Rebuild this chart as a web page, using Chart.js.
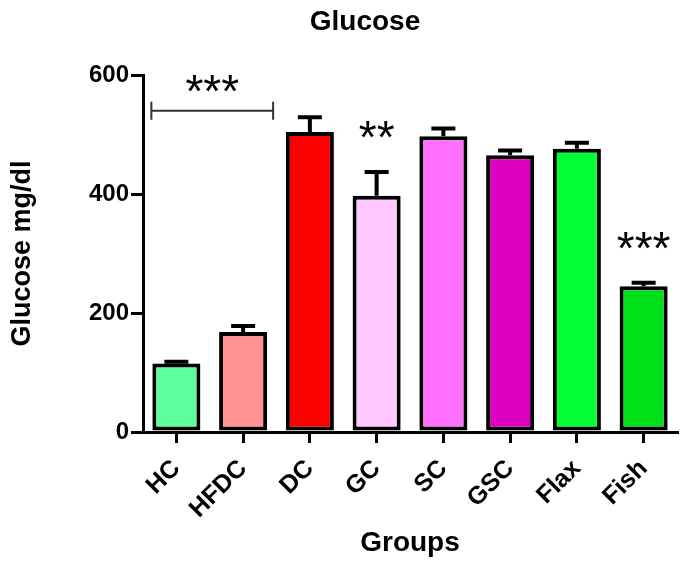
<!DOCTYPE html>
<html>
<head>
<meta charset="utf-8">
<script src="https://cdn.jsdelivr.net/npm/chart.js@4.4.1/dist/chart.umd.min.js"></script>
<style>
  html, body { margin: 0; padding: 0; background: #fff; }
  #wrap { width: 685px; height: 566px; }
</style>
</head>
<body>
<div id="wrap"><canvas id="myChart" width="685" height="566"></canvas></div>
<script>
// data
const groups = ['HC', 'HFDC', 'DC', 'GC', 'SC', 'GSC', 'Flax', 'Fish']
const glucose = [115, 168, 504, 397, 497, 465, 476, 245]
const sem = [3, 10, 25, 40, 13, 8, 10, 6]
const barColors = ['#5cff9c', '#ff9393', '#ff0000', '#ffc8ff', '#ff70ff', '#dc00c0', '#00ff33', '#00e019']
const sigMarks = ['', '', '', '**', '', '', '', '***']
// bracket HC..HFDC
const bracket = { from: 0, to: 1, value: 540, text: '***' }
const yTicks = [0, 200, 400, 600]
const chartTitle = 'Glucose'

const FONT = '"Liberation Sans", Arial, sans-serif'

/////////////////////////////////////////////////////////////
// error bars, significance stars, title
/////////////////////////////////////////////////////////////
const errorBars = {
    id: 'errorBars',
    afterDatasetsDraw(chart) {
        const ctx = chart.ctx
        const x = chart.scales.x, y = chart.scales.y
        ctx.save()
        ctx.strokeStyle = '#000'
        ctx.lineWidth = 4
        glucose.forEach((v, i) => {
            const cx = x.getPixelForValue(i)
            const top = y.getPixelForValue(v + sem[i])
            ctx.beginPath()
            ctx.moveTo(cx, y.getPixelForValue(v))
            ctx.lineTo(cx, top)
            ctx.moveTo(cx - 12, top)
            ctx.lineTo(cx + 12, top)
            ctx.stroke()
        })
        // stars over single bars
        ctx.fillStyle = '#000'
        ctx.font = '46px ' + FONT
        ctx.textAlign = 'center'
        ctx.textBaseline = 'alphabetic'
        sigMarks.forEach((s, i) => {
            if (!s) return
            const cx = x.getPixelForValue(i)
            const top = y.getPixelForValue(glucose[i] + sem[i])
            ctx.fillText(s, cx, top - 45 + 26)
        })
        // bracket
        const bx1 = x.getPixelForValue(bracket.from) - 25
        const bx2 = x.getPixelForValue(bracket.to) + 30
        const by = y.getPixelForValue(bracket.value)
        ctx.lineWidth = 2
        ctx.strokeStyle = '#333'
        ctx.beginPath()
        ctx.moveTo(bx1, by); ctx.lineTo(bx2, by)
        ctx.moveTo(bx1, by - 9); ctx.lineTo(bx1, by + 9)
        ctx.moveTo(bx2, by - 9); ctx.lineTo(bx2, by + 9)
        ctx.stroke()
        ctx.fillText(bracket.text, (bx1 + bx2) / 2, by - 30 + 26)
        ctx.restore()
    },
    afterDraw(chart) {
        const ctx = chart.ctx
        ctx.save()
        ctx.fillStyle = '#000'
        ctx.font = 'bold 28px ' + FONT
        ctx.textAlign = 'center'
        ctx.textBaseline = 'alphabetic'
        ctx.fillText(chartTitle, 365, 30)
        ctx.restore()
    }
}

const config = {
    type: 'bar',
    data: {
        labels: groups,
        datasets: [{
            label: 'Glucose',
            data: glucose,
            backgroundColor: barColors,
            borderColor: '#000',
            borderWidth: 4,
            borderSkipped: false,
            barPercentage: 0.72,
            categoryPercentage: 1.0,
        }]
    },
    plugins: [errorBars],
    options: {
        responsive: false,
        animation: false,
        layout: { padding: { left: 6, right: 8, top: 75, bottom: 4 } },
        plugins: {
            legend: { display: false },
            tooltip: { enabled: false },
            title: { display: false },
        },
        scales: {
            x: {
                grid: { display: true, offset: false, drawOnChartArea: false, color: '#000', lineWidth: 3, tickLength: 11 },
                border: { display: true, color: '#000', width: 3 },
                ticks: {
                    color: '#000',
                    font: { size: 25, weight: 'bold', family: FONT },
                    minRotation: 45, maxRotation: 45,
                    padding: 11,
                },
                title: {
                    display: true,
                    text: 'Groups',
                    color: '#000',
                    font: { size: 28, weight: 'bold', family: FONT },
                    padding: { top: 0, bottom: 2 },
                },
                afterFit(scale) { scale.height = 130 },
            },
            y: {
                min: 0, max: 600,
                afterBuildTicks(scale) { scale.ticks = yTicks.map(v => ({ value: v })) },
                grid: { display: true, drawOnChartArea: false, color: '#000', lineWidth: 3, tickLength: 12 },
                border: { display: true, color: '#000', width: 3 },
                ticks: {
                    color: '#000',
                    font: { size: 24, weight: 'bold', family: FONT },
                    padding: 2,
                },
                title: {
                    display: true,
                    text: 'Glucose mg/dl',
                    color: '#000',
                    font: { size: 27, weight: 'bold', family: FONT },
                    padding: { top: 0, bottom: 10 },
                },
                afterFit(scale) { scale.width = 137 },
            }
        }
    }
}

const myChart = new Chart(document.getElementById('myChart'), config)
</script>
</body>
</html>
